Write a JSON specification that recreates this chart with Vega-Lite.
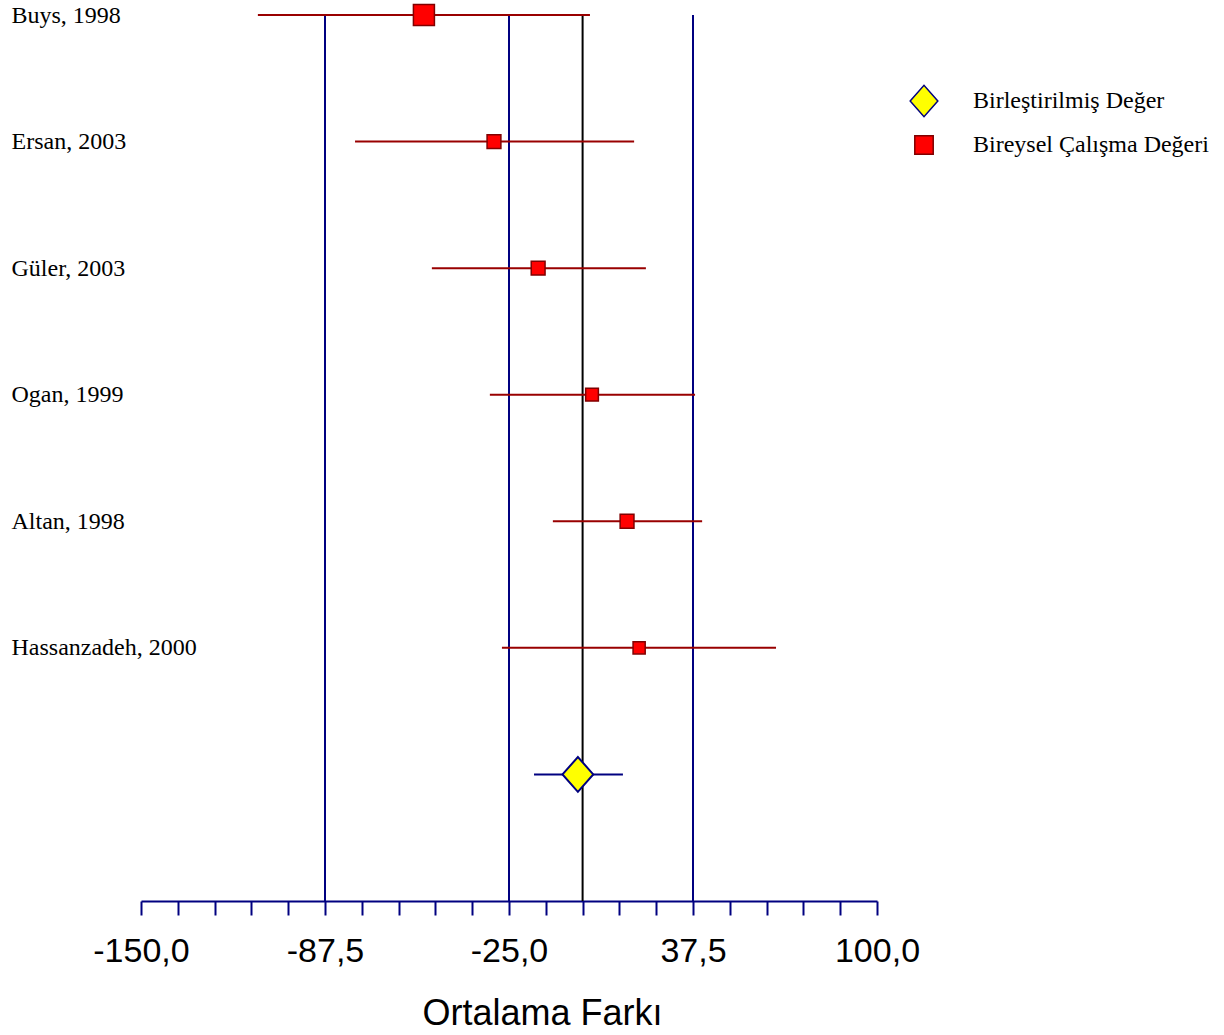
{
  "$schema": "https://vega.github.io/schema/vega-lite/v6.json",
  "autosize": {"type": "none"},
  "width": 736,
  "height": 886,
  "padding": {"left": 141, "top": 15, "right": 347, "bottom": 134},
  "background": "white",
  "config": {"view": {"stroke": null}},
  "datasets": {
    "studies": [
      {"study": "Buys, 1998", "md": -53.9, "lo": -110.3, "hi": 2.5, "weight": 30, "tip": "Bireysel Çalışma Değeri"},
      {"study": "Ersan, 2003", "md": -30.1, "lo": -77.3, "hi": 17.5, "weight": 13, "tip": "Bireysel Çalışma Değeri"},
      {"study": "Güler, 2003", "md": -15.1, "lo": -51.2, "hi": 21.5, "weight": 13, "tip": "Bireysel Çalışma Değeri"},
      {"study": "Ogan, 1999", "md": 3.2, "lo": -31.5, "hi": 38.2, "weight": 11, "tip": "Bireysel Çalışma Değeri"},
      {"study": "Altan, 1998", "md": 15.1, "lo": -10.1, "hi": 40.6, "weight": 13, "tip": "Bireysel Çalışma Değeri"},
      {"study": "Hassanzadeh, 2000", "md": 19.2, "lo": -27.4, "hi": 65.7, "weight": 10, "tip": "Bireysel Çalışma Değeri"},
      {"study": "Birleştirilmiş", "md": -1.6, "lo": -16.5, "hi": 13.7, "weight": null, "tip": "Birleştirilmiş Değer"}
    ],
    "refs": [
      {"v": -87.5, "kind": "ref"},
      {"v": -25, "kind": "ref"},
      {"v": 37.5, "kind": "ref"},
      {"v": 0, "kind": "zero"}
    ]
  },
  "encoding": {
    "x": {
      "field": "md", "type": "quantitative",
      "scale": {"domain": [-150, 100], "nice": false, "zero": false},
      "axis": {
        "title": "Ortalama Farkı",
        "values": [-150, -137.5, -125, -112.5, -100, -87.5, -75, -62.5, -50, -37.5, -25, -12.5, 0, 12.5, 25, 37.5, 50, 62.5, 75, 87.5, 100],
        "labelExpr": "(datum.value + 150) % 62.5 == 0 ? replace(replace(format(datum.value, '.1f'), '.', ','), '\u2212', '-') : ''",
        "labelOverlap": false,
        "labelFlush": false,
        "grid": false,
        "domainColor": "#000080",
        "domainWidth": 2,
        "tickColor": "#000080",
        "tickWidth": 2,
        "tickSize": 14,
        "labelFont": "Liberation Sans",
        "labelFontSize": 34,
        "labelColor": "black",
        "labelPadding": 19,
        "titleFont": "Liberation Sans",
        "titleFontSize": 36,
        "titleFontWeight": "normal",
        "titleColor": "black",
        "titleX": 401,
        "titleY": 123,
        "titleBaseline": "alphabetic"
      }
    }
  },
  "layer": [
    {
      "data": {"name": "refs"},
      "mark": {"type": "rule", "strokeWidth": 2},
      "encoding": {
        "x": {"field": "v", "type": "quantitative"},
        "color": {"condition": {"test": "datum.kind === 'zero'", "value": "black"}, "value": "#000080"}
      }
    },
    {
      "data": {"name": "studies"},
      "mark": {"type": "rule", "strokeWidth": 2},
      "encoding": {
        "x": {"field": "lo", "type": "quantitative"},
        "x2": {"field": "hi"},
        "y": {
          "field": "study", "type": "nominal",
          "scale": {"type": "point", "padding": 0,
            "domain": ["Buys, 1998", "Ersan, 2003", "Güler, 2003", "Ogan, 1999", "Altan, 1998", "Hassanzadeh, 2000", "Birleştirilmiş", "__end"]},
          "axis": {
            "title": null, "domain": false, "ticks": false, "grid": false,
            "labelAlign": "left", "labelPadding": 130, "labelLimit": 0,
            "labelFont": "Liberation Serif", "labelFontSize": 24, "labelColor": "black",
            "labelExpr": "datum.value === 'Birleştirilmiş' || datum.value === '__end' ? '' : datum.value"
          }
        },
        "color": {"condition": {"test": "datum.tip === 'Birleştirilmiş Değer'", "value": "#000080"}, "value": "#990000"}
      }
    },
    {
      "data": {"name": "studies"},
      "transform": [{"filter": "datum.tip === 'Bireysel Çalışma Değeri'"}],
      "mark": {"type": "point", "filled": true, "strokeWidth": 1.5, "opacity": 1},
      "encoding": {
        "y": {"field": "study", "type": "nominal"},
        "shape": {"field": "tip", "type": "nominal", "scale": {"domain": ["Birleştirilmiş Değer", "Bireysel Çalışma Değeri"], "range": ["M-1.5,0L0,-1.7L1.5,0L0,1.7Z", "square"]},
          "legend": {
            "title": null, "orient": "none", "legendX": 771, "legendY": 74,
            "labelFont": "Liberation Serif", "labelFontSize": 24, "labelColor": "black", "labelLimit": 0,
            "labelOffset": 37, "rowPadding": 12, "symbolStrokeWidth": 1.5,
            "symbolSize": 340, "symbolOpacity": 1
          }
        },
        "fill": {"field": "tip", "type": "nominal", "scale": {"domain": ["Birleştirilmiş Değer", "Bireysel Çalışma Değeri"], "range": ["#FFFF00", "#FF0000"]}},
        "stroke": {"field": "tip", "type": "nominal", "scale": {"domain": ["Birleştirilmiş Değer", "Bireysel Çalışma Değeri"], "range": ["#000080", "#800000"]}},
        "size": {"field": "weight", "type": "quantitative", "scale": {"domain": [0, 30], "range": [0, 441]}, "legend": null}
      }
    },
    {
      "data": {"name": "studies"},
      "transform": [{"filter": "datum.tip === 'Birleştirilmiş Değer'"}],
      "mark": {"type": "point", "filled": true, "strokeWidth": 2, "opacity": 1, "size": 420},
      "encoding": {
        "y": {"field": "study", "type": "nominal"},
        "shape": {"field": "tip", "type": "nominal", "scale": {"domain": ["Birleştirilmiş Değer", "Bireysel Çalışma Değeri"], "range": ["M-1.5,0L0,-1.7L1.5,0L0,1.7Z", "square"]}},
        "fill": {"field": "tip", "type": "nominal", "scale": {"domain": ["Birleştirilmiş Değer", "Bireysel Çalışma Değeri"], "range": ["#FFFF00", "#FF0000"]}},
        "stroke": {"field": "tip", "type": "nominal", "scale": {"domain": ["Birleştirilmiş Değer", "Bireysel Çalışma Değeri"], "range": ["#000080", "#800000"]}}
      }
    }
  ],
  "resolve": {"scale": {"size": "independent"}}
}
